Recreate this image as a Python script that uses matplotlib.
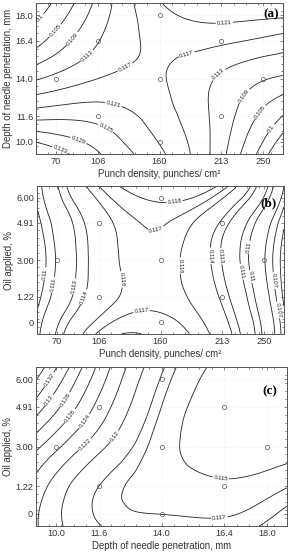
import numpy as np
import matplotlib
matplotlib.use("Agg")
import matplotlib.pyplot as plt
import matplotlib.tri as mtri

plt.rcParams["font.family"] = ["Liberation Sans", "DejaVu Sans"]

# coded factor levels of the grid nodes and of the tick marks
coded = [-2, -1, 0, 1, 2]
tick_pos = [-1.68, -1, 0, 1, 1.68]

punch_labels = ["70", "106", "160", "213", "250"]
depth_labels = ["10.0", "11.6", "14.0", "16.4", "18.0"]
oil_labels = ["0", "1.22", "3.00", "4.91", "6.00"]

# central composite design points (coded)
design_x = [-1.68, -1, -1, 0, 0, 0, 1, 1, 1.68]
design_y = [0, -1, 1, -1.68, 0, 1.68, -1, 1, 0]

# response at the grid nodes, rows go y = -2 .. 2
z_a = [[0.1375, 0.1294, 0.1218, 0.1103, 0.0910],
       [0.1237, 0.1236, 0.1190, 0.1112, 0.0998],
       [0.1126, 0.1170, 0.1174, 0.1124, 0.1084],
       [0.1035, 0.1128, 0.1180, 0.1178, 0.1153],
       [0.0966, 0.1101, 0.1207, 0.1246, 0.1250]]
levels_a = [0.096, 0.1, 0.105, 0.109, 0.113, 0.117, 0.121, 0.125, 0.129, 0.133]

z_b = [[0.1106, 0.1172, 0.1177, 0.1150, 0.1065],
       [0.1096, 0.1150, 0.1166, 0.1137, 0.1058],
       [0.1090, 0.1148, 0.1166, 0.1129, 0.1055],
       [0.1096, 0.1151, 0.1171, 0.1137, 0.1062],
       [0.1104, 0.1170, 0.1187, 0.1176, 0.1080]]
levels_b = [0.106, 0.107, 0.108, 0.11, 0.111, 0.113, 0.114, 0.116, 0.117, 0.118]

z_c = [[0.1222, 0.1181, 0.1175, 0.1174, 0.1188],
       [0.1232, 0.1180, 0.1163, 0.1155, 0.1169],
       [0.1265, 0.1206, 0.1161, 0.1132, 0.1138],
       [0.1311, 0.1234, 0.1170, 0.1133, 0.1135],
       [0.1355, 0.1256, 0.1183, 0.1143, 0.1138]]
levels_c = [0.115, 0.117, 0.118, 0.12, 0.122, 0.124, 0.126, 0.128, 0.13, 0.132, 0.134]

PX_W, PX_H = 291, 556


def axes_box(left, right, top, bottom):
    return [left / PX_W, 1 - bottom / PX_H,
            (right - left) / PX_W, (bottom - top) / PX_H]


def draw_panel(ax, z, levels, label_at, xt, yt, xlabel, ylabel, tag, tag_xy):
    gx, gy = np.meshgrid(coded, coded)
    tri = mtri.Triangulation(gx.ravel(), gy.ravel())
    tri_f, z_f = mtri.UniformTriRefiner(tri).refine_field(
        np.ravel(z), subdiv=4)

    ax.grid(True, color="#e2e2e2", linestyle=(0, (1, 2)), linewidth=0.4)
    cs = ax.tricontour(tri_f, z_f, levels=levels, colors="#222222",
                       linewidths=0.6)
    ax.clabel(cs, fmt="%g", fontsize=4.3, inline=True, inline_spacing=1,
              manual=label_at)
    ax.plot(design_x, design_y, "o", ms=3.0, mfc="none", mec="#555555",
            mew=0.5, zorder=4)

    ax.set_xlim(-2, 2)
    ax.set_ylim(-2, 2)
    ax.set_xticks(tick_pos)
    ax.set_xticklabels(xt)
    ax.set_yticks(tick_pos)
    ax.set_yticklabels(yt)
    ax.set_xticks(np.arange(-2, 2.01, 0.2), minor=True)
    ax.set_yticks(np.arange(-2, 2.01, 0.2), minor=True)
    ax.tick_params(which="both", direction="in", top=True, right=True,
                   width=0.5, color="#555555")
    ax.tick_params(which="major", length=2.5, labelsize=6.6, pad=2,
                   labelcolor="#333333")
    ax.tick_params(which="minor", length=1.2)
    ax.set_xlabel(xlabel, fontsize=6.9, color="#333333", labelpad=2)
    ax.set_ylabel(ylabel, fontsize=6.9, color="#333333", labelpad=2)
    for s in ax.spines.values():
        s.set_color("#555555")
        s.set_linewidth(0.7)
    ax.text(tag_xy[0], tag_xy[1], tag, transform=ax.transAxes,
            ha="right", va="center", fontsize=9.5, fontweight="bold",
            family="Liberation Serif")


fig = plt.figure(figsize=(PX_W / 100, PX_H / 100), dpi=100)

ax_a = fig.add_axes(axes_box(36, 283, 3.3, 154))
draw_panel(ax_a, z_a, levels_a,
           [(-1.88, 1.55), (-1.66, 1.24), (-1.42, 1.07), (-1.18, 0.62),
            (-0.53, 0.22), (-0.75, -0.69), (-0.85, -1.23), (-1.28, -1.49),
            (-1.58, -1.76), (0.45, 0.6), (1.04, -0.04), (1.32, -0.4),
            (1.56, -0.8), (1.75, -1.25), (1.05, 1.47)],
           punch_labels, depth_labels,
           "Punch density, punches/ cm²", "Depth of needle penetration, mm",
           "(a)", (0.985, 0.925))

ax_b = fig.add_axes(axes_box(37, 284, 186, 334))
draw_panel(ax_b, z_b, levels_b,
           [(-1.85, -0.38), (-1.69, -0.69), (-1.5, -0.69), (-1.26, -1.0),
            (-0.82, -0.56), (-0.31, -1.35), (-0.07, 0.79), (0.23, 1.55),
            (0.28, -0.16), (0.75, 0.11), (1.04, 0.11), (1.26, -0.33),
            (1.49, 0.33), (1.56, -0.42), (1.78, -0.56), (1.89, -1.35)],
           punch_labels, oil_labels,
           "Punch density, punches/ cm²", "Oil applied, %",
           "(b)", (0.97, 0.885))

ax_c = fig.add_axes(axes_box(36, 287, 366.7, 526.3))
draw_panel(ax_c, z_c, levels_c,
           [(-1.78, 1.67), (-1.83, 1.21), (-1.48, 1.12), (-1.43, 0.74),
            (-1.22, 0.63), (-1.15, -0.06), (-0.77, 0.28), (0.94, -0.86),
            (0.92, -1.75)],
           depth_labels, oil_labels,
           "Depth of needle penetration, mm", "Oil applied, %",
           "(c)", (0.96, 0.848))

fig.savefig("out.png", dpi=100)
